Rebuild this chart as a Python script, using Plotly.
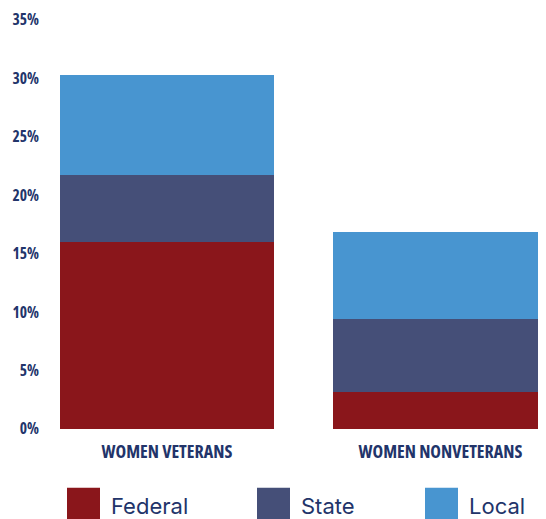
import plotly.graph_objects as go

categories = ["WOMEN VETERANS", "WOMEN NONVETERANS"]
series_names = ["Federal", "State", "Local"]
federal = [16.0, 3.2]
state = [5.7, 6.2]
local = [8.6, 7.5]
colors = ["#8A161B", "#454F78", "#4895D0"]
y_ticks = [0, 5, 10, 15, 20, 25, 30, 35]
y_tick_labels = [f"{v}%" for v in y_ticks]

navy = "#22346A"
cond_font = "Open Sans"


def condensed(t):
    return f'<span style="font-stretch:extra-condensed">{t}</span>'


# page has an 8px body margin: figure origin lies at (8, 8) in the screenshot
OFF = 8
W, H = 546 - OFF, 519 - OFF
PL, PR, PT, PB = 60, 546, 18, 429  # plot area in screenshot pixels
pw, ph = PR - PL, PB - PT


def px(x):
    return (x - PL) / pw


def py(y):
    return (PB - y) / ph


fig = go.Figure()
for name, vals, col in zip(series_names, [federal, state, local], colors):
    fig.add_trace(go.Bar(x=categories, y=vals, name=name, marker=dict(color=col, line=dict(width=0)),
                         showlegend=False, hoverinfo="skip"))

leg_x = [67, 257, 425]
for name, col, lx in zip(series_names, colors, leg_x):
    fig.add_shape(type="rect", xref="paper", yref="paper",
                  x0=px(lx), x1=px(lx + 33), y0=py(521), y1=py(488),
                  fillcolor=col, line=dict(width=0))
    fig.add_annotation(xref="paper", yref="paper", x=px(lx + 42), y=py(506),
                       text=name, showarrow=False, xanchor="left", yanchor="middle",
                       font=dict(family="Inter, Noto Sans, sans-serif", size=22, color=navy))

fig.update_layout(
    width=W, height=H,
    margin=dict(l=PL - OFF, r=W - (PR - OFF), t=PT - OFF, b=H - (PB - OFF), pad=0),
    barmode="stack",
    bargap=0.218,
    plot_bgcolor="white", paper_bgcolor="white",
    xaxis=dict(range=[-0.391, 1.386], showgrid=False, zeroline=False, showline=False, ticks="",
               tickvals=categories, ticktext=[condensed(c) for c in categories],
               tickfont=dict(family=cond_font, size=18, color=navy, weight="bold"),
               ticklabelstandoff=10, ticklabeloverflow="allow"),
    yaxis=dict(range=[0, 35], tickvals=y_ticks, ticktext=[condensed(t) for t in y_tick_labels],
               showgrid=False, zeroline=False, showline=False, ticks="",
               tickfont=dict(family=cond_font, size=15.5, color=navy, weight="bold"),
               ticklabelstandoff=20, ticklabeloverflow="allow"),
)

fig.write_html("out.html")
